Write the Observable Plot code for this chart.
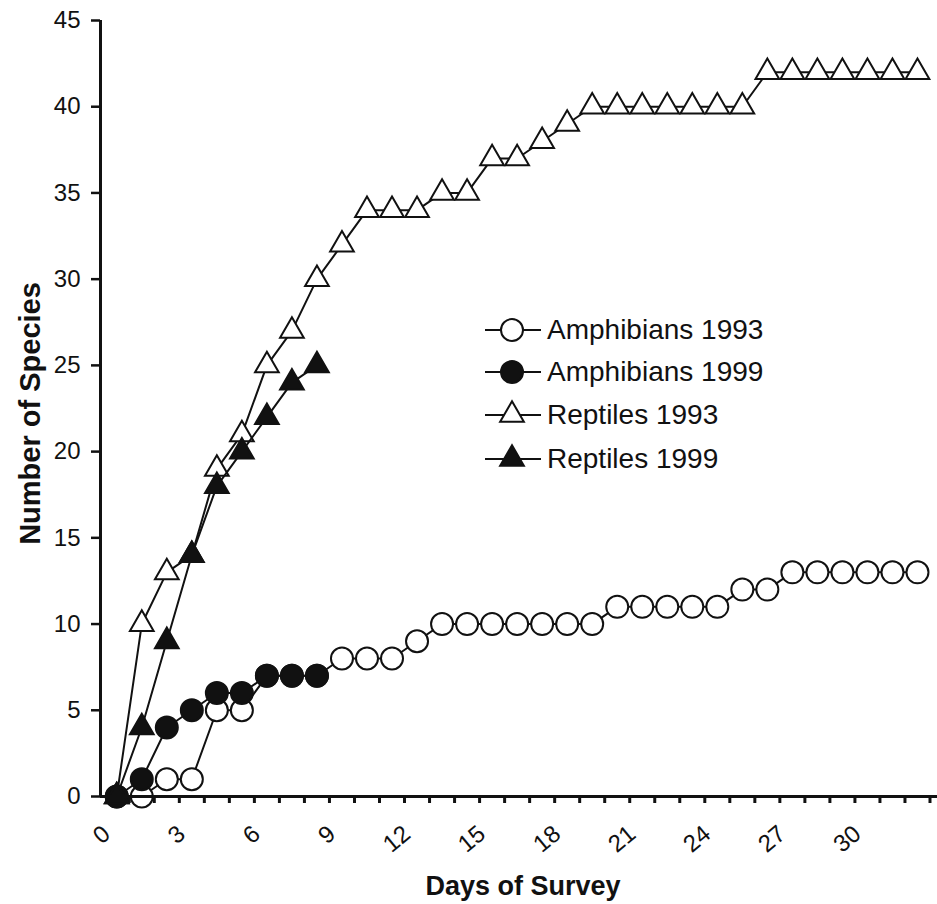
<!DOCTYPE html>
<html>
<head>
<meta charset="utf-8">
<script src="https://cdn.jsdelivr.net/npm/d3@7"></script>
<script src="https://cdn.jsdelivr.net/npm/@observablehq/plot@0.6"></script>
<style>
  html, body { margin: 0; padding: 0; background: #fff; }
  #wrap { position: relative; width: 937px; height: 904px; overflow: hidden; }
  #legend { position: absolute; left: 0; top: 0; font-family: "Liberation Sans", Arial, sans-serif; font-size: 28px; color: #111; }
  .row { position: absolute; display: flex; align-items: center; height: 40px; line-height: 40px; white-space: nowrap; }
  .row svg { display: block; margin-right: 6px; }
</style>
</head>
<body>
<div id="wrap"><div id="chart"></div><div id="legend"></div></div>
<script>
// ---- data ----
const days = [0,1,2,3,4,5,6,7,8,9,10,11,12,13,14,15,16,17,18,19,20,21,22,23,24,25,26,27,28,29,30,31,32];
const amphibians1993 = [0,0,1,1,5,5,7,7,7,8,8,8,9,10,10,10,10,10,10,10,11,11,11,11,11,12,12,13,13,13,13,13,13];
const amphibians1999 = [0,1,4,5,6,6,7,7,7];
const reptiles1993 = [0,10,13,14,19,21,25,27,30,32,34,34,34,35,35,37,37,38,39,40,40,40,40,40,40,40,42,42,42,42,42,42,42];
const reptiles1999 = [0,4,9,14,18,20,22,24,25];
const seriesNames = ["Amphibians 1993", "Amphibians 1999", "Reptiles 1993", "Reptiles 1999"];
const xTickLabels = [0,3,6,9,12,15,18,21,24,27,30];
const yTicks = [0,5,10,15,20,25,30,35,40,45];
const xTitle = "Days of Survey";
const yTitle = "Number of Species";

// ---- styling ----
const ink = "#111";
const seriesStyle = [
  {symbol: "circle", fill: "#fff", r: 11},
  {symbol: "circle", fill: ink, r: 11},
  {symbol: "triangle", fill: "#fff", r: 8.8},
  {symbol: "triangle", fill: ink, r: 8.8}
];
const seriesValues = [amphibians1993, amphibians1999, reptiles1993, reptiles1999];
const xDomain = [-0.65, 32.8];
const boundaries = days.map(d => d + 0.5);

const seriesMarks = seriesValues.flatMap((vals, i) => {
  const rows = vals.map((v, j) => ({day: days[j], value: v, series: seriesNames[i]}));
  const st = seriesStyle[i];
  return [
    Plot.line(rows, {x: "day", y: "value", stroke: ink, strokeWidth: 2}),
    Plot.dot(rows, {x: "day", y: "value", symbol: () => st.symbol, r: st.r, fill: st.fill, stroke: ink, strokeWidth: 2})
  ];
});

const chart = Plot.plot({
  width: 937,
  height: 904,
  marginLeft: 100,
  marginRight: 0,
  marginTop: 20,
  marginBottom: 108,
  style: {fontFamily: '"Liberation Sans", Arial, sans-serif', color: ink, background: "#fff", overflow: "visible"},
  x: {domain: xDomain},
  y: {domain: [0, 45]},
  symbol: {domain: ["circle", "triangle"], range: ["circle", "triangle"]},
  marks: [
    Plot.axisY({ticks: yTicks, tickSize: 9, tickPadding: 11, fontSize: 24, strokeWidth: 2.5, label: null, tickFormat: d => String(d)}),
    Plot.axisX({ticks: boundaries, tickSize: 7, strokeWidth: 3, tickFormat: () => "", label: null}),
    Plot.text(xTickLabels, {x: d => d, frameAnchor: "bottom", dx: -10, dy: 34, rotate: -40, textAnchor: "end", lineAnchor: "middle", fontSize: 24}),
    Plot.text([yTitle], {frameAnchor: "left", dx: -70, dy: 5, rotate: -90, textAnchor: "middle", lineAnchor: "middle", fontSize: 29, fontWeight: "bold"}),
    Plot.text([xTitle], {frameAnchor: "bottom", dx: 4, dy: 90, textAnchor: "middle", fontSize: 27, fontWeight: "bold", lineAnchor: "middle"}),
    ...seriesMarks,
    Plot.ruleX([xDomain[0]], {stroke: ink, strokeWidth: 3}),
    Plot.ruleY([0], {stroke: ink, strokeWidth: 3})
  ]
});
document.getElementById("chart").appendChild(chart);

// ---- legend (overlay inside plot area) ----
const legend = document.getElementById("legend");
const rowCenters = [330, 372, 415, 459];
seriesNames.forEach((name, i) => {
  const st = seriesStyle[i];
  const row = document.createElement("div");
  row.className = "row";
  row.style.left = "485px";
  row.style.top = (rowCenters[i] - 20) + "px";
  const size = st.r * st.r * Math.PI;
  const path = d3.symbol(st.symbol === "circle" ? d3.symbolCircle : d3.symbolTriangle, size)();
  row.innerHTML =
    `<svg width="56" height="40" viewBox="0 0 56 40">` +
    `<line x1="0" x2="56" y1="20" y2="20" stroke="${ink}" stroke-width="2"/>` +
    `<path d="${path}" transform="translate(27,20)" fill="${st.fill}" stroke="${ink}" stroke-width="2"/>` +
    `</svg><span>${name}</span>`;
  legend.appendChild(row);
});
</script>
</body>
</html>
